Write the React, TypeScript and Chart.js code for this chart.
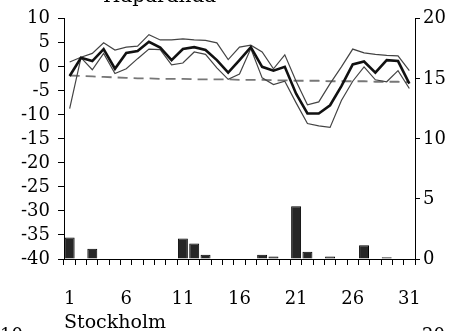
import React, { useEffect, useRef } from 'react';
import { Chart, registerables } from 'chart.js';

Chart.register(...registerables);

const DAYS = ['1','2','3','4','5','6','7','8','9','10','11','12','13','14','15','16','17','18','19','20','21','22','23','24','25','26','27','28','29','30','31'];
const SHOWN_DAY_LABELS = ['1','6','11','16','21','26','31'];

// daily mean temperature (thick black)
const MEAN_TEMP = [-1.9, 1.9, 1.2, 3.7, -0.4, 2.9, 3.3, 5.2, 4.0, 1.4, 3.7, 4.1, 3.5, 1.4, -1.2, 1.4, 4.1, 0.0, -0.8, 0.0, -5.6, -9.7, -9.7, -8.0, -4.0, 0.5, 1.1, -1.2, 1.4, 1.2, -3.5];
// daily max temperature (thin)
const MAX_TEMP = [1.0, 2.0, 2.8, 5.0, 3.5, 4.1, 4.3, 6.7, 5.6, 5.6, 5.8, 5.6, 5.5, 5.0, 1.5, 4.1, 4.5, 3.1, -0.4, 2.5, -3.0, -7.9, -7.3, -3.5, 0.0, 3.7, 2.9, 2.6, 2.4, 2.3, -0.8];
// daily min temperature (thin)
const MIN_TEMP = [-8.7, 1.9, -0.6, 2.8, -1.4, -0.4, 1.7, 3.7, 3.6, 0.4, 0.8, 3.1, 2.6, -0.2, -2.6, -1.5, 3.8, -2.3, -3.7, -3.0, -7.5, -11.8, -12.3, -12.6, -7.0, -3.0, 0.0, -2.7, -3.1, -0.8, -4.5];
// normal temperature (dashed grey)
const NORMAL_TEMP = [-1.8, -1.9, -2.0, -2.1, -2.2, -2.3, -2.4, -2.4, -2.5, -2.5, -2.5, -2.6, -2.6, -2.6, -2.6, -2.7, -2.7, -2.7, -2.8, -2.8, -2.9, -2.9, -2.9, -3.0, -3.0, -3.0, -3.0, -3.1, -3.1, -3.1, -3.2];
// precipitation (bars, right axis)
const PRECIP = [1.8, null, 0.85, null, null, null, null, null, null, null, 1.7, 1.3, 0.35, null, null, null, null, 0.35, 0.2, null, 4.4, 0.6, null, 0.2, null, null, 1.15, null, 0.15, null, null];

const TEMP_MIN = -40;
const TEMP_MAX = 10;
const PRECIP_MIN = 0;
const PRECIP_MAX = 20;
const STEP = 5;

const FONT_FAMILY = "'DejaVu Serif', 'Liberation Serif', serif";

export default function App() {
  const ref = useRef<HTMLCanvasElement | null>(null);

  useEffect(() => {
    if (!ref.current) return;
    const extraText = {
      id: 'extraText',
      afterDraw(chart: any) {
        const ctx = chart.ctx;
        ctx.save();
        ctx.fillStyle = '#000';
        ctx.font = `20px ${FONT_FAMILY}`;
        ctx.textBaseline = 'alphabetic';
        ctx.textAlign = 'left';
        ctx.fillText('Haparanda', 103, 2);
        ctx.font = `18px ${FONT_FAMILY}`;
        ctx.textBaseline = 'top';
        ctx.fillText('10', 0, 327);
        ctx.fillText('20', 422, 327);
        ctx.restore();
      },
    };

    const font = { family: FONT_FAMILY, size: 18 };
    const chart = new Chart(ref.current, {
      type: 'bar',
      data: {
        labels: DAYS,
        datasets: [
          {
            type: 'line',
            label: 'Medeltemperatur',
            data: MEAN_TEMP,
            yAxisID: 'y',
            borderColor: '#111',
            borderWidth: 2.6,
            pointRadius: 0,
            tension: 0,
            order: 1,
          },
          {
            type: 'line',
            label: 'Max',
            data: MAX_TEMP,
            yAxisID: 'y',
            borderColor: '#444',
            borderWidth: 1.2,
            pointRadius: 0,
            tension: 0,
            order: 2,
          },
          {
            type: 'line',
            label: 'Min',
            data: MIN_TEMP,
            yAxisID: 'y',
            borderColor: '#444',
            borderWidth: 1.2,
            pointRadius: 0,
            tension: 0,
            order: 3,
          },
          {
            type: 'line',
            label: 'Normal',
            data: NORMAL_TEMP,
            yAxisID: 'y',
            borderColor: '#777',
            borderWidth: 1.8,
            borderDash: [10, 6],
            pointRadius: 0,
            tension: 0,
            order: 4,
          },
          {
            type: 'bar',
            label: 'Nederbörd',
            data: PRECIP as any,
            yAxisID: 'y1',
            backgroundColor: '#262626',
            borderColor: '#000',
            borderWidth: 1,
            barPercentage: 0.88,
            categoryPercentage: 1,
            order: 5,
          },
        ],
      },
      options: {
        animation: false,
        responsive: false,
        maintainAspectRatio: false,
        layout: { padding: { top: 17, left: 0, right: 0, bottom: 0 } },
        plugins: {
          legend: { display: false },
          tooltip: { enabled: false },
          title: { display: false },
        },
        scales: {
          x: {
            offset: true,
            grid: {
              offset: true,
              drawOnChartArea: false,
              drawTicks: true,
              tickLength: 6,
              color: '#000',
              lineWidth: 1,
            },
            border: { display: true, color: '#000', width: 1 },
            ticks: {
              autoSkip: false,
              maxRotation: 0,
              minRotation: 0,
              padding: 24,
              color: '#000',
              font,
              callback: (_v: any, i: number) => (SHOWN_DAY_LABELS.includes(DAYS[i]) ? DAYS[i] : ''),
            },
            title: {
              display: true,
              text: 'Stockholm',
              align: 'start',
              color: '#000',
              font: { family: FONT_FAMILY, size: 19 },
              padding: { top: 0, bottom: -3 },
            },
            afterFit: (s: any) => {
              s.height = 72;
            },
          },
          y: {
            position: 'left',
            min: TEMP_MIN,
            max: TEMP_MAX,
            ticks: { stepSize: STEP, autoSkip: false, padding: 8, color: '#000', font },
            grid: { drawOnChartArea: false, tickLength: 6, color: '#000' },
            border: { display: true, color: '#000', width: 1 },
            afterFit: (s: any) => {
              s.width = 64;
            },
          },
          y1: {
            position: 'right',
            min: PRECIP_MIN,
            max: PRECIP_MAX,
            ticks: { stepSize: STEP, autoSkip: false, padding: 3, color: '#000', font },
            grid: { drawOnChartArea: false, tickLength: 5, color: '#000' },
            border: { display: true, color: '#000', width: 1 },
            afterFit: (s: any) => {
              s.width = 50;
            },
          },
        },
      },
      plugins: [extraText],
    });
    return () => chart.destroy();
  }, []);

  return (
    <div style={{ position: 'absolute', left: 0, top: 0, width: 465, height: 331, background: '#fff' }}>
      <canvas ref={ref} width={465} height={331} style={{ display: 'block' }} />
    </div>
  );
}
